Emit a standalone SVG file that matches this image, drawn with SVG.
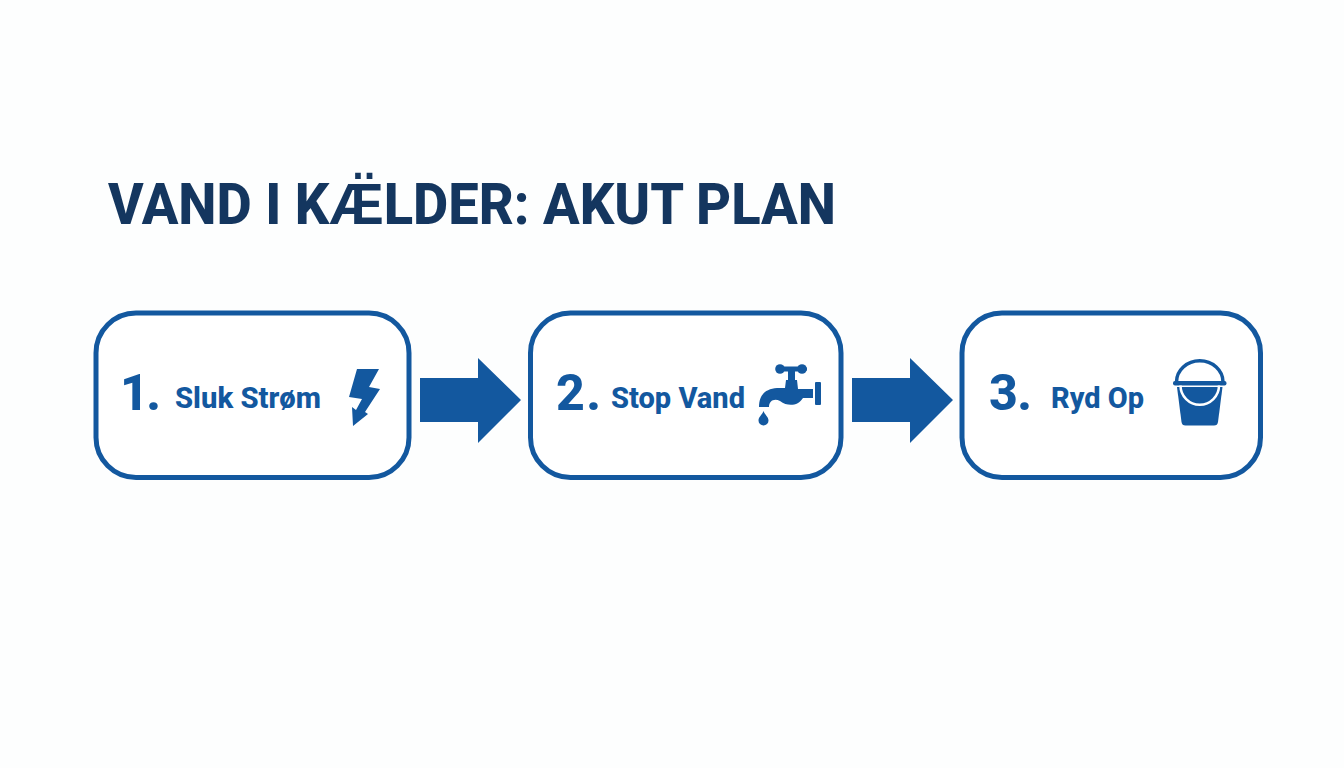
<svg xmlns="http://www.w3.org/2000/svg" width="1344" height="768" viewBox="0 0 1344 768">
<style>
.box{fill:#fff;stroke:#13589f;stroke-width:5}
.ink{fill:#13589f}
text{font-family:Roboto,"Liberation Sans",sans-serif;font-weight:800;fill:#13589f}
.num{font-size:50px;font-weight:800}
.lab{font-size:30px;font-weight:800}
.title{font-size:58px;font-weight:800;fill:#14365f}
</style>
<rect width="1344" height="768" fill="#fdfefe"/>
<text id="title" class="title" x="108" y="223.500" textLength="728" lengthAdjust="spacingAndGlyphs">VAND I KÆ̈LDER: AKUT PLAN</text>
<g id="connectors">
<polygon class="ink" points="420,378 478,378 478,358 521,400 478,443 478,422 420,422"/>
<polygon class="ink" points="852,378 910,378 910,358 953,400 910,443 910,422 852,422"/>
</g>
<g id="node1">
<rect class="box" x="96" y="313" width="313" height="164.500" rx="40"/>
<text class="num" x="120" y="410" textLength="41" lengthAdjust="spacing">1.</text>
<text class="lab" x="175" y="408" textLength="146" lengthAdjust="spacingAndGlyphs">Sluk Strøm</text>
<polygon class="ink" points="357,369 379,369 369,387 380,389 365,412 368,414 353,426 352,407 356,410 362,399 349,397"/>
</g>
<g id="node2">
<rect class="box" x="530.500" y="313" width="310.500" height="164.500" rx="40"/>
<text class="num" x="556" y="410" textLength="45" lengthAdjust="spacing">2.</text>
<text class="lab" x="611" y="408" textLength="134" lengthAdjust="spacingAndGlyphs">Stop Vand</text>
<g class="ink">
<path d="M759,407 C759,394 766,389 777,388 L785,388 L786,380 L797,380 L798,389 L813,389 L813,398 L803,398 C798,406 788,407 780,401 C774,398 769,401 769,407 Z"/>
<rect x="788" y="368" width="7" height="13"/>
<rect x="776" y="366.500" width="31" height="5" rx="2.500"/>
<circle cx="780" cy="369" r="4.800"/>
<circle cx="802" cy="369" r="4.800"/>
<rect x="815" y="382" width="6" height="23" rx="1"/>
<path d="M763.500,411 C765,415 768.500,417 768.500,420.500 A5,5 0 0 1 758.500,420.500 C758.500,417 762,415 763.500,411 Z"/>
</g>
</g>
<g id="node3">
<rect class="box" x="962" y="313" width="298.500" height="164.500" rx="40"/>
<text class="num" x="989" y="410" textLength="43" lengthAdjust="spacing">3.</text>
<text class="lab" x="1051" y="408" textLength="93" lengthAdjust="spacingAndGlyphs">Ryd Op</text>
<path d="M1176.500,382 A23,21 0 0 1 1223,382" fill="none" stroke="#13589f" stroke-width="3.500"/>
<rect class="ink" x="1173" y="381" width="53.500" height="4.500" rx="2"/>
<path class="ink" d="M1177,387 L1222.500,387 L1218,422 Q1217.500,425.500 1214,425.500 L1185.500,425.500 Q1182,425.500 1181.500,422 Z"/>
<path d="M1180.500,385.500 A19,19 0 0 0 1219,385.500" fill="none" stroke="#fff" stroke-width="2.500"/>
</g>
</svg>
